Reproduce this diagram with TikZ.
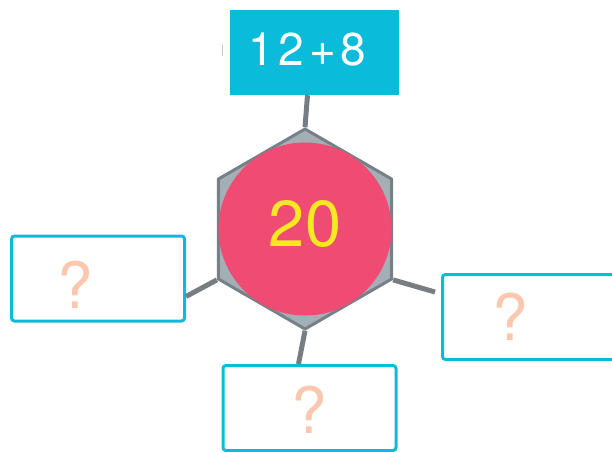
\documentclass[tikz,border=0pt]{standalone}
\usepackage{fontspec}
\setmainfont{TeX Gyre Heros}
\newfontfamily\sumfont[LetterSpace=10]{TeX Gyre Heros}
\usetikzlibrary{shapes.geometric}
\definecolor{boxcyan}{RGB}{10,188,218}
\definecolor{ballpink}{RGB}{239,75,115}
\definecolor{numyellow}{RGB}{247,232,36}
\definecolor{qpeach}{RGB}{251,199,174}
\definecolor{hexfill}{RGB}{164,174,181}
\definecolor{hexedge}{RGB}{120,128,135}
\definecolor{spokegray}{RGB}{118,126,132}
\tikzset{
	answer/.style={draw=boxcyan, line width=3pt, rounded corners=3pt, minimum width=173pt, minimum height=85pt},
	qmark/.style={text=qpeach, font=\fontsize{64}{64}\selectfont},
	spokeline/.style={draw=spokegray, line width=5pt},
}
\begin{document}
\begin{tikzpicture}[x=1pt, y=-1pt]
	\useasboundingbox (0, 0) rectangle (612, 451);
	\clip (0, 0) rectangle (612, 451);
	\node[regular polygon, regular polygon sides=6, shape border rotate=90, minimum size=200pt, inner sep=0pt, fill=hexfill, draw=hexedge, line width=3pt, line join=round] (hex) at (305, 229) {};
	\node[circle, fill=ballpink, minimum size=173pt, inner sep=0pt, text=numyellow, font=\fontsize{65}{65}\selectfont, text depth=11pt] (ball) at (hex.center) {20};
	\node[fill=boxcyan, minimum width=169pt, minimum height=85pt, inner sep=0pt, text=white, font=\sumfont\fontsize{46}{46}\selectfont, text depth=7pt] (sum) at (314.5, 52.5) {12+8\kern14pt};
	\draw[gray!45, line width=1pt] (222, 45)--(222, 56);
	\node[answer] (ansL) at (98, 278.5) {};
	\node[answer] (ansR) at (529, 317) {};
	\node[answer] (ansB) at (309.5, 408) {};
	\node[qmark] (qL) at ([xshift=-23pt, yshift=-6pt]ansL.center) {?};
	\node[qmark] (qR) at ([xshift=-19pt]ansR.center) {?};
	\node[qmark] (qB) at ([yshift=-2pt]ansB.center) {?};
	\draw[spokeline] (hex.90)--([xshift=-7pt]sum.south);
	\draw[spokeline] (hex.-90)--([xshift=-11pt]ansB.north);
	\draw[spokeline] (hex.210)--([yshift=-18pt]ansL.east);
	\draw[spokeline] (hex.-30)--([xshift=-6pt, yshift=25pt]ansR.west);
\end{tikzpicture}
\end{document}
